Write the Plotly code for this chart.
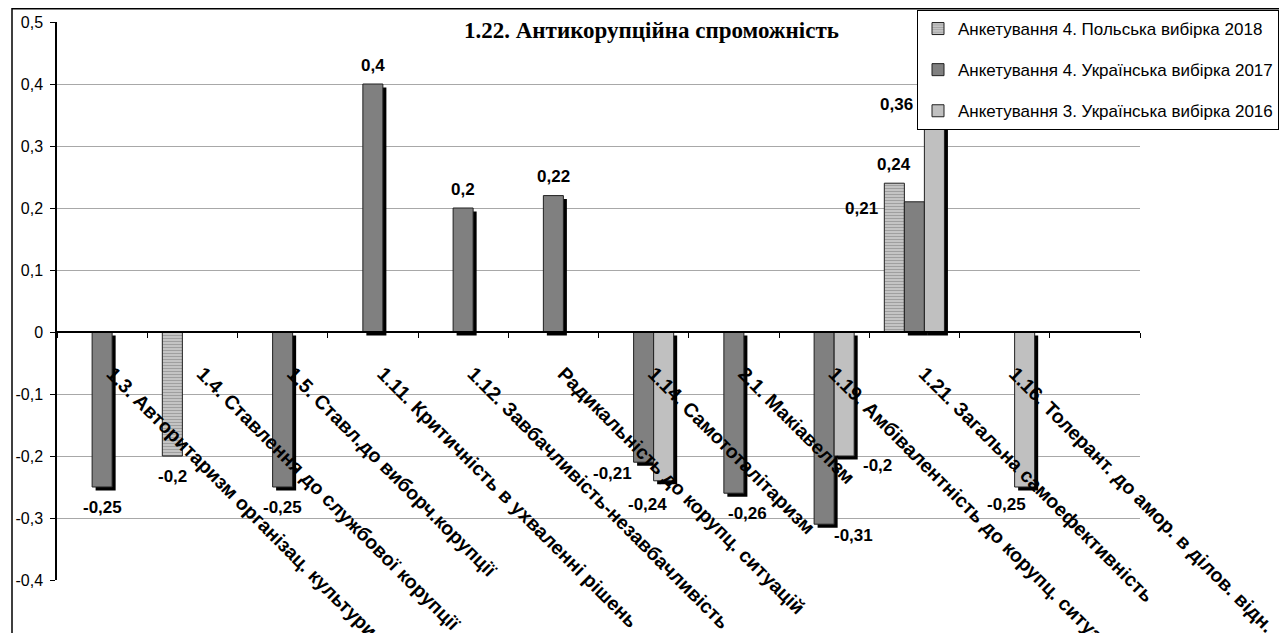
import plotly.graph_objects as go

categories = [
    "1.3. Авторитаризм організац. культури",
    "1.4. Ставлення до службової корупції",
    "1.5. Ставл.до виборч.корупції",
    "1.11. Критичність в ухваленні рішень",
    "1.12. Завбачливість-незавбачливість",
    "Радикальність до корупц. ситуацій",
    "1.14. Самототалітаризм",
    "2.1. Макіавелізм",
    "1.19. Амбівалентність до корупц. ситуацій",
    "1.21. Загальна самоефективність",
    "1.16. Толерант. до амор. в ділов. відн.",
    " ",
]

pl_2018 = [None, -0.2, None, None, None, None, None, None, None, 0.24, None, None]
ua_2017 = [-0.25, None, -0.25, 0.4, 0.2, 0.22, -0.21, -0.26, -0.31, 0.21, None, None]
ua_2016 = [None, None, None, None, None, None, -0.24, None, -0.2, 0.36, -0.25, None]

series_names = [
    "Анкетування 4. Польська вибірка 2018",
    "Анкетування 4. Українська вибірка 2017",
    "Анкетування 3. Українська вибірка 2016",
]

y_ticks = [-0.4, -0.3, -0.2, -0.1, 0, 0.1, 0.2, 0.3, 0.4, 0.5]
title_text = "1.22. Антикорупційна спроможність"

# ---- layout constants (figure pixels; page has an 8px body margin) ----
W, H = 1279, 625
ML, MR, MT, MB = 49, 147, 14, 53
PW = W - ML - MR
PH = H - MT - MB
YMIN, YMAX = -0.4, 0.5
px_per_unit = PH / (YMAX - YMIN)
cat_px = PW / len(categories)

bar_w = 0.222
offsets = [-0.333, -0.111, 0.111]
shadow_dx = 3.5 / cat_px
shadow_dy = 3.5 / px_per_unit

styles = [
    dict(color="#c8c8c8", pattern=dict(shape="-", fgcolor="#6e6e6e", bgcolor="#d0d0d0", size=3, solidity=0.5), shadow=False),
    dict(color="#808080", pattern=None, shadow=True),
    dict(color="#c0c0c0", pattern=None, shadow=True),
]

fig = go.Figure()
all_series = [pl_2018, ua_2017, ua_2016]

# shadows first
for vals, off, st in zip(all_series, offsets, styles):
    if not st["shadow"]:
        continue
    fig.add_trace(go.Bar(
        x=categories, y=vals, base=-shadow_dy,
        width=bar_w, offset=off + shadow_dx,
        marker=dict(color="#000000", line=dict(width=0)),
        showlegend=False, hoverinfo="skip",
    ))

for i, (vals, off, st, name) in enumerate(zip(all_series, offsets, styles, series_names)):
    marker = dict(color=st["color"], line=dict(color="#202020", width=1))
    if st["pattern"]:
        marker["pattern"] = st["pattern"]
    fig.add_trace(go.Bar(
        x=categories, y=vals, width=bar_w, offset=off,
        marker=marker, name=name, legendgroup=f"g{i}",
    ))

# value label placement: (x shift px, y shift px) overrides
label_pos = {
    (1, 6): (-31, -11),
    (2, 6): (-16, -24),
    (1, 7): (14, -20),
    (1, 8): (29, -11),
    (2, 8): (33, -9),
    (1, 9): (-53, -7),
    (2, 9): (-38, 4),
    (2, 10): (-18, -17),
}
for si, (vals, off) in enumerate(zip(all_series, offsets)):
    for ci, v in enumerate(vals):
        if v is None:
            continue
        cx = (off + bar_w / 2) * cat_px
        dx, dy = label_pos.get((si, ci), (0, 19 if v > 0 else -20))
        fig.add_annotation(
            x=categories[ci], y=v, xref="x", yref="y",
            text=f"<b>{str(v).replace('.', ',')}</b>",
            showarrow=False, xshift=cx + dx, yshift=dy,
            font=dict(family="Liberation Sans, Arial", size=17, color="#000"),
        )

# title
fig.add_annotation(
    x=(643 - ML) / PW, y=(H - MB - 22) / PH, xref="paper", yref="paper",
    xanchor="center", yanchor="middle",
    text=f"<b>{title_text}</b>", showarrow=False,
    font=dict(family="Liberation Serif, Times New Roman", size=23, color="#000"),
)

# outer chart frame
fig.add_shape(
    type="rect", xref="paper", yref="paper",
    x0=(4 - ML) / PW, x1=(1274 - ML) / PW,
    y0=(H - MB - 660) / PH, y1=(H - MB - 0.75) / PH,
    line=dict(color="#000", width=1.5), fillcolor="rgba(0,0,0,0)", layer="above",
)

fig.update_layout(
    width=W, height=H,
    margin=dict(l=ML, r=MR, t=MT, b=MB, autoexpand=False),
    paper_bgcolor="white", plot_bgcolor="white",
    barmode="overlay",
    font=dict(family="Liberation Sans, Arial", size=16, color="#000"),
    legend=dict(
        x=(909 - ML) / PW, y=(H - MB - 2) / PH, xanchor="left", yanchor="top",
        bordercolor="#000", borderwidth=1, bgcolor="white",
        font=dict(family="Liberation Sans, Arial", size=17),
        traceorder="grouped", tracegroupgap=16,
    ),
    xaxis=dict(
        type="category", categoryorder="array", categoryarray=categories,
        range=[-0.5, len(categories) - 0.5],
        anchor="free", position=(0 - YMIN) / (YMAX - YMIN),
        showline=True, linecolor="#000", linewidth=1.5,
        ticks="outside", ticklen=5, tickcolor="#000", tickson="boundaries",
        tickangle=45, showgrid=False, automargin=False,
        ticklabelstandoff=22, ticklabelshift=10,
        tickfont=dict(family="Liberation Sans, Arial", size=19.5, color="#000", weight="bold"),
    ),
    yaxis=dict(
        range=[YMIN, YMAX], tickvals=y_ticks,
        ticktext=[str(t).replace(".", ",") for t in y_ticks],
        showline=True, linecolor="#000", linewidth=1.5,
        ticks="outside", ticklen=5, tickcolor="#000", ticklabelstandoff=4,
        showgrid=True, gridcolor="#a8a8a8", gridwidth=1,
        zeroline=False, automargin=False,
        tickfont=dict(family="Liberation Sans, Arial", size=16, color="#000"),
    ),
)

fig.write_html("out.html")
